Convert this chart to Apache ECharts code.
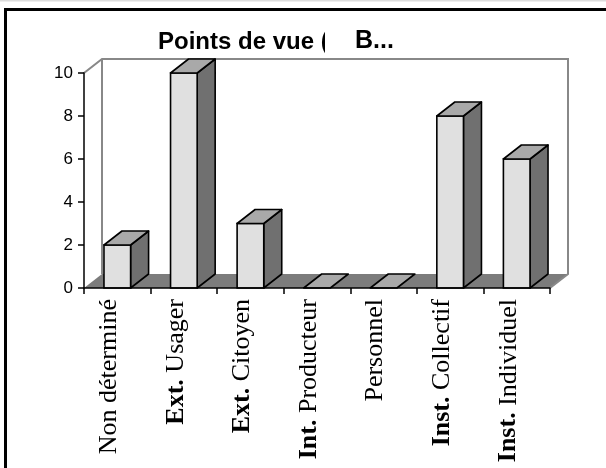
<!DOCTYPE html>
<html>
<head>
<meta charset="utf-8">
<script src="https://cdn.jsdelivr.net/npm/echarts@6/dist/echarts.min.js"></script>
<style>
html,body{margin:0;padding:0;background:#fff;}
#chart{width:606px;height:468px;}
</style>
</head>
<body>
<div id="chart"></div>
<script>
// ---- data ----
const categories = ['Non déterminé', 'Ext. Usager', 'Ext. Citoyen', 'Int. Producteur', 'Personnel', 'Inst. Collectif', 'Inst. Individuel'];
const values = [2, 10, 3, 0, 0, 8, 6];
const yMin = 0, yMax = 10, yStep = 2;
const titleText = 'Points de vue (';
const titleOverlay = 'B...';

// ---- style ----
const DX = 18, DY = -14;
const FRONT = '#e0e0e0', SIDE = '#707070', TOP = '#a9a9a9', FLOOR = '#7c7c7c', WALL = '#888888';

const chart = echarts.init(document.getElementById('chart'), null, {renderer: 'canvas'});

function wallsItem(params, api) {
  const cs = params.coordSys;
  const x0 = cs.x, x1 = cs.x + cs.width, yT = cs.y, yB = cs.y + cs.height;
  return {
    type: 'group',
    children: [
      {type: 'polygon', shape: {points: [[x0, yB], [x1, yB], [x1 + DX, yB + DY], [x0 + DX, yB + DY]]},
        style: {fill: FLOOR, stroke: null}},
      {type: 'polyline', shape: {points: [[x0, yT], [x0 + DX, yT + DY], [x1 + DX, yT + DY], [x1 + DX, yB + DY], [x1, yB]]},
        style: {fill: null, stroke: WALL, lineWidth: 2}},
      {type: 'line', shape: {x1: x0 + DX, y1: yT + DY, x2: x0 + DX, y2: yB + DY},
        style: {stroke: WALL, lineWidth: 2}}
    ]
  };
}

function barItem(params, api) {
  const i = api.value(0), v = api.value(1);
  const base = api.coord([i, 0]);
  const top = api.coord([i, v]);
  const bw = api.size([1, 0])[0] * 0.4;
  const xa = base[0] - bw / 2, xb = base[0] + bw / 2;
  const yb = base[1], yt = top[1];
  const lw = 1.6;
  const children = [];
  if (v > 0) {
    children.push({type: 'polygon', shape: {points: [[xb, yb], [xb + DX, yb + DY], [xb + DX, yt + DY], [xb, yt]]},
      style: {fill: SIDE, stroke: '#000', lineWidth: lw, lineJoin: 'round'}});
    children.push({type: 'rect', shape: {x: xa, y: yt, width: bw, height: yb - yt},
      style: {fill: FRONT, stroke: '#000', lineWidth: lw}});
  }
  children.push({type: 'polygon', shape: {points: [[xa, yt], [xa + DX, yt + DY], [xb + DX, yt + DY], [xb, yt]]},
    style: {fill: TOP, stroke: '#000', lineWidth: lw, lineJoin: 'round'}});
  return {type: 'group', children: children};
}

chart.setOption({
  animation: false,
  backgroundColor: '#fff',
  grid: {left: 84, right: 56, top: 73, bottom: 180, containLabel: false},
  xAxis: {
    type: 'category',
    data: categories,
    z: 5,
    axisLine: {lineStyle: {color: '#000', width: 1.5}},
    axisTick: {show: true, length: 6, lineStyle: {color: '#000', width: 1.5}},
    axisLabel: {
      rotate: 90, margin: 11, interval: 0, color: '#000',
      fontFamily: '"Liberation Serif", "Times New Roman", serif', fontSize: 26,
      padding: [0, 0, 16, 0],
      formatter: function (s) {
        const m = s.match(/^(\S+\.)\s(.*)$/);
        return m ? '{b|' + m[1] + '} ' + m[2] : s;
      },
      rich: {b: {fontWeight: 'bold', fontFamily: '"Liberation Serif", "Times New Roman", serif', fontSize: 26, color: '#000'}}
    },
    splitLine: {show: false}
  },
  yAxis: {
    type: 'value', min: yMin, max: yMax, interval: yStep,
    z: 5,
    axisLine: {show: true, lineStyle: {color: '#000', width: 1.5}},
    axisTick: {show: true, length: 6, lineStyle: {color: '#000', width: 1.5}},
    axisLabel: {margin: 11, color: '#000', fontFamily: '"Liberation Sans", Arial, sans-serif', fontSize: 17},
    splitLine: {show: false}
  },
  series: [
    {type: 'custom', z: 1, data: [[0, 0]], renderItem: wallsItem, silent: true},
    {type: 'custom', z: 3, data: values.map((v, i) => [i, v]), renderItem: barItem,
      encode: {x: 0, y: 1}}
  ],
  graphic: [
    {type: 'line', shape: {x1: 0, y1: 0.5, x2: 606, y2: 0.5}, style: {stroke: '#dcdcdc', lineWidth: 2}, z: 10},
    {type: 'rect', shape: {x: 5.5, y: 9.5, width: 800, height: 700}, style: {fill: null, stroke: '#000', lineWidth: 3}, z: 10},
    {type: 'text', left: 158, top: 30, style: {text: titleText, font: 'bold 24px "Liberation Sans", Arial, sans-serif', fill: '#000'}, z: 10},
    {type: 'rect', shape: {x: 325, y: 30, width: 78, height: 26}, style: {fill: '#fff', stroke: null}, z: 11},
    {type: 'text', left: 355, top: 29, style: {text: titleOverlay, font: 'bold 25px "Liberation Sans", Arial, sans-serif', fill: '#000'}, z: 12}
  ]
});
</script>
</body>
</html>
